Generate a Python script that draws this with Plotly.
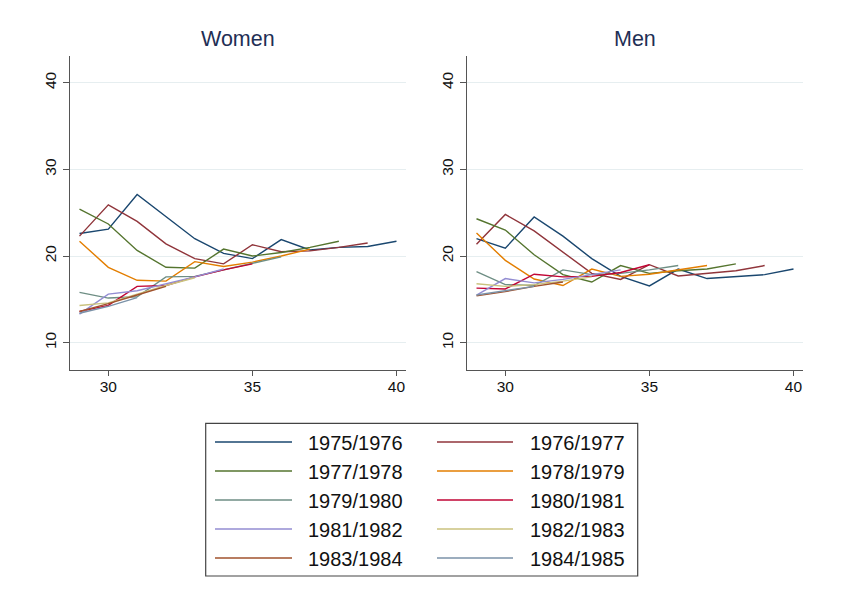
import plotly.graph_objects as go

W, H = 848, 606

ages = [29, 30, 31, 32, 33, 34, 35, 36, 37, 38, 39, 40]
cohorts = ["1975/1976", "1976/1977", "1977/1978", "1978/1979", "1979/1980",
           "1980/1981", "1981/1982", "1982/1983", "1983/1984", "1984/1985"]
colors = ["#1a476f", "#90353b", "#55752f", "#e37e00", "#6e8e84",
          "#c10534", "#938dd2", "#cac27e", "#a0522d", "#7b92a8"]

women = [
    [22.6, 23.1, 27.1, 24.6, 22.0, 20.3, 19.7, 21.9, 20.7, 21.0, 21.1, 21.7],
    [22.3, 25.9, 24.0, 21.4, 19.7, 19.1, 21.3, 20.5, 20.6, 21.0, 21.5],
    [25.4, 23.7, 20.65, 18.7, 18.6, 20.8, 20.0, 20.4, 21.0, 21.7],
    [21.7, 18.7, 17.2, 17.1, 19.35, 18.8, 19.3, 20.0, 20.8],
    [15.8, 15.15, 15.3, 17.6, 17.65, 18.4, 19.1, 19.9],
    [13.6, 14.3, 16.5, 16.6, 17.6, 18.4, 19.1],
    [13.3, 15.6, 16.0, 16.8, 17.6, 18.5],
    [14.3, 14.6, 15.6, 16.6, 17.5],
    [13.6, 14.5, 15.5, 16.5],
    [13.4, 14.2, 15.2],
]

men = [
    [22.0, 20.9, 24.5, 22.3, 19.7, 17.65, 16.55, 18.5, 17.4, 17.6, 17.85, 18.5],
    [21.35, 24.8, 22.9, 20.5, 18.0, 17.3, 19.0, 17.7, 18.0, 18.3, 18.9],
    [24.3, 23.0, 20.15, 17.85, 17.0, 18.9, 18.0, 18.3, 18.5, 19.1],
    [22.65, 19.5, 17.35, 16.6, 18.5, 17.65, 17.9, 18.4, 18.9],
    [18.2, 16.7, 16.6, 18.4, 17.85, 18.0, 18.4, 18.9],
    [16.3, 16.2, 17.9, 17.6, 17.65, 18.1, 19.0],
    [15.5, 17.4, 16.9, 17.3, 17.85, 18.4],
    [16.8, 16.5, 16.7, 17.1, 17.6],
    [15.4, 15.9, 16.5, 17.0],
    [15.5, 16.0, 16.5],
]

panel_titles = ["Women", "Men"]
x_ticks = [30, 35, 40]
y_ticks = [10, 20, 30, 40]

FONT = "Liberation Sans, Arial, sans-serif"

fig = go.Figure()
for i, name in enumerate(cohorts):
    fig.add_trace(go.Scatter(x=ages[:len(women[i])], y=women[i], mode="lines",
                             name=name, line=dict(color=colors[i], width=1.4),
                             xaxis="x", yaxis="y", showlegend=False))
    fig.add_trace(go.Scatter(x=ages[:len(men[i])], y=men[i], mode="lines",
                             name=name, line=dict(color=colors[i], width=1.4),
                             xaxis="x2", yaxis="y2", showlegend=False))

def px(x):
    return x / W

def py(y):
    return 1 - y / H

ydom = [py(370), py(56)]
xdom1 = [px(69.7), px(406)]
xdom2 = [px(466.7), px(803)]

axis_common = dict(showline=True, linecolor="#555555", linewidth=1.3,
                   ticks="outside", tickcolor="#555555", tickwidth=1.3,
                   tickfont=dict(family=FONT, size=15.5, color="#111111"),
                   zeroline=False)

xa = dict(axis_common, range=[28.66, 40.33], tickvals=x_ticks, ticklen=5,
          showgrid=False, ticklabelstandoff=-3)
ya = dict(axis_common, range=[6.85, 43.08], tickvals=y_ticks, ticklen=6,
          tickangle=-90, showgrid=True, gridcolor="#e6eef0", gridwidth=1)

fig.update_layout(
    width=W, height=H,
    margin=dict(l=0, r=0, t=0, b=0),
    paper_bgcolor="white", plot_bgcolor="white",
    xaxis=dict(xa, domain=xdom1, anchor="y"),
    yaxis=dict(ya, domain=ydom, anchor="x"),
    xaxis2=dict(xa, domain=xdom2, anchor="y2"),
    yaxis2=dict(ya, domain=ydom, anchor="x2"),
    showlegend=False,
)

# panel titles
for dom, t in zip([xdom1, xdom2], panel_titles):
    fig.add_annotation(x=(dom[0] + dom[1]) / 2, y=py(39), xref="paper", yref="paper",
                       text=t, showarrow=False, xanchor="center", yanchor="middle",
                       font=dict(family=FONT, size=21.5, color="#1f2f55"))

# legend box
shapes = [dict(type="rect", xref="paper", yref="paper",
               x0=px(205.7), x1=px(637.7), y0=py(576), y1=py(423.3),
               line=dict(color="#444444", width=1.2), fillcolor="rgba(0,0,0,0)")]
col_line_x = [(215, 292), (437, 513)]
col_text_x = [306, 528]
row_y0, row_dy = 442, 29
for i, name in enumerate(cohorts):
    r, c = divmod(i, 2)
    yy = row_y0 + r * row_dy
    shapes.append(dict(type="line", xref="paper", yref="paper",
                       x0=px(col_line_x[c][0]), x1=px(col_line_x[c][1]),
                       y0=py(yy), y1=py(yy),
                       line=dict(color=colors[i], width=1.6)))
    fig.add_annotation(x=px(col_text_x[c]), y=py(yy + 1), xref="paper", yref="paper",
                       text=name, showarrow=False, xanchor="left", yanchor="middle",
                       font=dict(family=FONT, size=20, color="#111111"))
fig.update_layout(shapes=shapes)

fig.write_html("out.html")
